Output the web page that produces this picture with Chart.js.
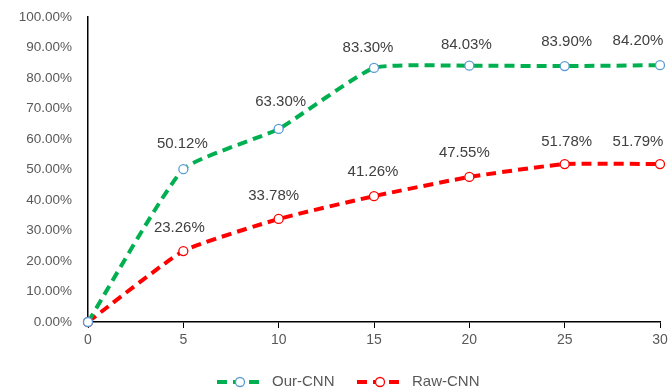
<!DOCTYPE html>
<html>
<head>
<meta charset="utf-8">
<script src="https://cdn.jsdelivr.net/npm/chart.js@4.4.1/dist/chart.umd.min.js"></script>
<style>
  html, body { margin: 0; padding: 0; background: #fff; }
  #wrap { width: 668px; height: 390px; }
</style>
</head>
<body>
<div id="wrap"><canvas id="c" width="668" height="390"></canvas></div>
<script>
// Training epochs on the x axis
const epochs = [0, 5, 10, 15, 20, 25, 30];
// Accuracy (%) per epoch
const ourCnn = [0, 50.12, 63.30, 83.30, 84.03, 83.90, 84.20];
const rawCnn = [0, 23.26, 33.78, 41.26, 47.55, 51.78, 51.79];
const seriesNames = ['Our-CNN', 'Raw-CNN'];

const FONT = '"Liberation Sans", Arial, sans-serif';
const GREEN = '#00B050';
const RED = '#FF0000';
const BLUE = '#5B9BD5';

// Label placement for each point: [dx, dy] relative to the marker
const ourLabelShift = [null, [-1, -25], [2, -27], [-6, -20], [-3, -21], [2, -24], [-22, -24]];
const rawLabelShift = [null, [-4, -23], [-5, -23], [-1, -24], [-5, -24], [2, -22], [-22, -22]];

const toPoints = (vals) => epochs.map((x, i) => ({ x: x, y: vals[i] }));

const valueLabels = {
  id: 'valueLabels',
  afterDatasetsDraw(chart) {
    const ctx = chart.ctx;
    ctx.save();
    ctx.font = '15px ' + FONT;
    ctx.fillStyle = '#404040';
    ctx.textAlign = 'center';
    ctx.textBaseline = 'middle';
    const shifts = [ourLabelShift, rawLabelShift];
    chart.data.datasets.forEach((ds, di) => {
      const meta = chart.getDatasetMeta(di);
      meta.data.forEach((pt, i) => {
        const s = shifts[di][i];
        if (!s) return;
        ctx.fillText(ds.data[i].y.toFixed(2) + '%', pt.x + s[0], pt.y + s[1]);
      });
    });
    ctx.restore();
  }
};

const bottomLegend = {
  id: 'bottomLegend',
  afterDraw(chart) {
    const ctx = chart.ctx;
    ctx.save();
    const y = 382;
    const items = [
      { x: 217, line: GREEN, marker: BLUE, name: seriesNames[0] },
      { x: 357, line: RED, marker: RED, name: seriesNames[1] }
    ];
    items.forEach(it => {
      ctx.strokeStyle = it.line;
      ctx.lineWidth = 4;
      ctx.setLineDash([10, 6]);
      ctx.beginPath();
      ctx.moveTo(it.x, y);
      ctx.lineTo(it.x + 46, y);
      ctx.stroke();
      ctx.setLineDash([]);
      ctx.lineWidth = 1.3;
      ctx.strokeStyle = it.marker;
      ctx.fillStyle = '#fff';
      ctx.beginPath();
      ctx.arc(it.x + 23, y, 4.5, 0, Math.PI * 2);
      ctx.fill();
      ctx.stroke();
      ctx.fillStyle = '#595959';
      ctx.font = '15px ' + FONT;
      ctx.textAlign = 'left';
      ctx.textBaseline = 'middle';
      ctx.fillText(it.name, it.x + 55, y);
    });
    ctx.restore();
  }
};

const lineStyle = {
  borderWidth: 4,
  borderDash: [10, 6],
  tension: 0.15,
  clip: false,
  pointRadius: 4.5,
  pointBorderWidth: 1.3,
  pointBackgroundColor: '#fff'
};

new Chart(document.getElementById('c'), {
  type: 'line',
  data: {
    datasets: [
      Object.assign({
        label: seriesNames[0],
        data: toPoints(ourCnn),
        borderColor: GREEN,
        pointBorderColor: BLUE
      }, lineStyle),
      Object.assign({
        label: seriesNames[1],
        data: toPoints(rawCnn),
        borderColor: RED,
        pointBorderColor: RED
      }, lineStyle)
    ]
  },
  options: {
    responsive: false,
    animation: false,
    devicePixelRatio: 1,
    layout: { padding: { top: 17, right: 8, bottom: 38, left: 0 } },
    plugins: { legend: { display: false }, tooltip: { enabled: false } },
    scales: {
      x: {
        type: 'linear',
        min: 0,
        max: 30,
        afterFit(scale) { scale.height = 30; scale.paddingLeft = 0; scale.paddingRight = 0; },
        ticks: { stepSize: 5, color: '#595959', font: { family: FONT, size: 14 }, padding: 4 },
        grid: { drawOnChartArea: false, drawTicks: true, tickLength: 6, color: '#000', lineWidth: 1 },
        border: { display: true, color: '#000', width: 1.5 }
      },
      y: {
        min: 0,
        max: 100,
        afterFit(scale) { scale.width = 88; scale.paddingTop = 0; scale.paddingBottom = 0; },
        ticks: {
          stepSize: 10,
          color: '#595959',
          font: { family: FONT, size: 13.5 },
          padding: 16,
          callback: v => v.toFixed(2) + '%'
        },
        grid: { drawOnChartArea: false, drawTicks: false },
        border: { display: true, color: '#000', width: 1.5 }
      }
    }
  },
  plugins: [valueLabels, bottomLegend]
});
</script>
</body>
</html>
